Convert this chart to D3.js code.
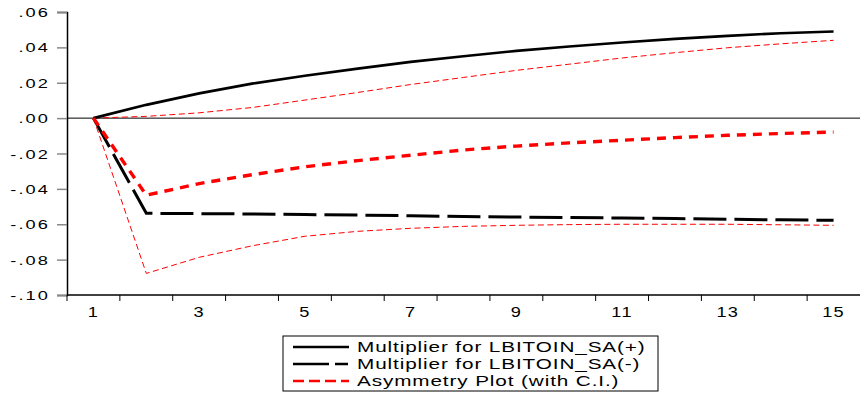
<!DOCTYPE html>
<html>
<head>
<meta charset="utf-8">
<script src="https://cdn.jsdelivr.net/npm/d3@7"></script>
<style>
  body { margin: 0; background: #fff; }
  svg text { font-family: "Liberation Sans", Arial, sans-serif; }
</style>
</head>
<body>
<div id="chart"></div>
<script>
// periods 1..15
var periods = d3.range(1, 16);
// multiplier for LBITOIN_SA(+)
var posMult = [0, 0.0075, 0.014, 0.0195, 0.024, 0.028, 0.0318, 0.035, 0.038, 0.0405, 0.0428, 0.0448, 0.0465, 0.048, 0.049];
// multiplier for LBITOIN_SA(-)
var negMult = [0, -0.0538, -0.054, -0.0542, -0.0545, -0.0548, -0.0552, -0.0556, -0.0559, -0.0562, -0.0565, -0.0568, -0.0572, -0.0575, -0.0578];
// asymmetry plot
var asym = [0, -0.0436, -0.037, -0.032, -0.0275, -0.024, -0.021, -0.018, -0.0158, -0.014, -0.0125, -0.011, -0.0097, -0.0087, -0.0079];
// confidence interval
var ciUpper = [0, 0.001, 0.003, 0.006, 0.0102, 0.0145, 0.019, 0.023, 0.027, 0.0305, 0.034, 0.037, 0.0398, 0.042, 0.044];
var ciLower = [0, -0.0878, -0.0787, -0.0722, -0.0668, -0.064, -0.0623, -0.0612, -0.0606, -0.0602, -0.060, -0.060, -0.060, -0.0603, -0.0606];
var yTicks = [0.06, 0.04, 0.02, 0.00, -0.02, -0.04, -0.06, -0.08, -0.10];
var xLabels = [1, 3, 5, 7, 9, 11, 13, 15];
var legendLabels = ["Multiplier for LBITOIN_SA(+)", "Multiplier for LBITOIN_SA(-)", "Asymmetry Plot (with C.I.)"];

var W = 864, H = 399,
    margin = {top: 12, right: 4, bottom: 104, left: 67},
    width = W - margin.left - margin.right,
    height = H - margin.top - margin.bottom;

var svg = d3.select("#chart").append("svg")
    .attr("width", W).attr("height", H);
var g = svg.append("g")
    .attr("transform", "translate(" + margin.left + "," + margin.top + ")");

var x = d3.scaleBand().domain(periods).range([0, width]);
var y = d3.scaleLinear().domain([-0.10, 0.06]).range([height, 0]);
var xc = function(d) { return x(d) + x.bandwidth() / 2; };

// zero line
g.append("line")
    .attr("x1", 0).attr("x2", width)
    .attr("y1", y(0)).attr("y2", y(0))
    .attr("stroke", "#000").attr("stroke-width", 1);

// y axis
var fmt = function(d) {
    var s = d3.format(".2f")(Math.abs(d)).replace(/^0/, "");
    return (d < -1e-9 ? "-" : "") + s;
};
var yAxis = g.append("g")
    .call(d3.axisLeft(y).tickValues(yTicks).tickSize(10).tickFormat(fmt));
yAxis.select(".domain").attr("stroke", "#000").attr("stroke-width", 1.5);
yAxis.selectAll(".tick line").attr("stroke", "#888").attr("stroke-width", 1.5);
// wide, stretched labels like the original
yAxis.selectAll(".tick text")
    .attr("x", 0).attr("dy", "0.35em")
    .attr("transform", "translate(-17,0) scale(1.4,1)")
    .attr("font-size", 13).attr("letter-spacing", 1.5).attr("fill", "#000");

// x axis: ticks on category boundaries
var xAxisG = g.append("g").attr("transform", "translate(0," + height + ")");
xAxisG.append("line")
    .attr("x1", 0).attr("x2", width)
    .attr("stroke", "#000").attr("stroke-width", 1.5);
xAxisG.selectAll(".bt").data(periods).enter().append("line")
    .attr("x1", function(d) { return x(d); })
    .attr("x2", function(d) { return x(d); })
    .attr("y1", 0).attr("y2", 6)
    .attr("stroke", "#000").attr("stroke-width", 1);
xAxisG.selectAll(".xl").data(xLabels).enter().append("text")
    .attr("transform", function(d) { return "translate(" + xc(d) + ",22) scale(1.3,1)"; })
    .attr("text-anchor", "middle")
    .attr("font-size", 14)
    .attr("letter-spacing", 1)
    .text(function(d) { return d; });

var line = d3.line()
    .x(function(d, i) { return xc(periods[i]); })
    .y(function(d) { return y(d); });

var series = [
    {data: ciUpper, color: "#ff0000", w: 1, dash: "6,3.5"},
    {data: ciLower, color: "#ff0000", w: 1, dash: "6,3.5"},
    {data: posMult, color: "#000", w: 2.6, dash: null},
    {data: negMult, color: "#000", w: 3, dash: "33,8"},
    {data: asym, color: "#ff0000", w: 3.4, dash: "9,7"}
];
series.forEach(function(s) {
    g.append("path")
        .attr("d", line(s.data))
        .attr("fill", "none")
        .attr("stroke", s.color)
        .attr("stroke-width", s.w)
        .attr("stroke-linejoin", "miter")
        .attr("stroke-dasharray", s.dash);
});

// legend
var leg = svg.append("g").attr("transform", "translate(283,336)");
leg.append("rect")
    .attr("width", 375).attr("height", 55)
    .attr("fill", "#fff").attr("stroke", "#000").attr("stroke-width", 1);
var legStyles = [
    {color: "#000", w: 2.4, dash: null},
    {color: "#000", w: 2.4, dash: "36,6,13"},
    {color: "#ff0000", w: 2.4, dash: "11,5"}
];
legendLabels.forEach(function(lbl, i) {
    var yy = 11 + i * 17;
    leg.append("line")
        .attr("x1", 10).attr("x2", 66)
        .attr("y1", yy).attr("y2", yy)
        .attr("stroke", legStyles[i].color)
        .attr("stroke-width", legStyles[i].w)
        .attr("stroke-dasharray", legStyles[i].dash);
    leg.append("text")
        .attr("transform", "translate(74," + yy + ") scale(1.48,1)")
        .attr("dy", "0.35em")
        .attr("font-size", 14)
        .attr("letter-spacing", 0.6)
        .text(lbl);
});
</script>
</body>
</html>
